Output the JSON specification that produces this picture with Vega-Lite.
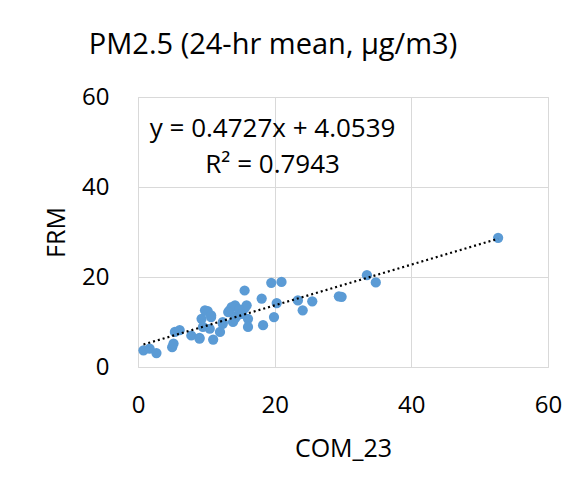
{
  "$schema": "https://vega.github.io/schema/vega-lite/v6.json",
  "width": 410,
  "height": 270,
  "autosize": "none",
  "padding": {"left": 138, "top": 97, "right": 24, "bottom": 118},
  "background": "white",
  "config": {
    "font": "Open Sans",
    "view": {"stroke": "#d9d9d9", "strokeWidth": 1},
    "axis": {"domain": false, "ticks": false, "labelFlush": false, "gridColor": "#d9d9d9", "labelColor": "#000000", "titleColor": "#000000", "labelFontSize": 24, "titleFontSize": 25, "titleFontWeight": "normal", "labelFont": "Open Sans", "titleFont": "Open Sans"}
  },
  "title": {"text": "PM2.5 (24-hr mean, µg/m3)", "fontSize": 29, "fontWeight": "normal", "color": "#000000", "anchor": "middle", "dx": -70, "offset": 25},
  "data": {"values": [
    {"COM_23": 0.8, "FRM": 3.7}, {"COM_23": 1.7, "FRM": 4.1}, {"COM_23": 2.7, "FRM": 3.1},
    {"COM_23": 5.0, "FRM": 4.4}, {"COM_23": 5.2, "FRM": 5.2}, {"COM_23": 5.4, "FRM": 7.8},
    {"COM_23": 6.1, "FRM": 8.2}, {"COM_23": 7.8, "FRM": 7.0}, {"COM_23": 9.0, "FRM": 6.5},
    {"COM_23": 9.3, "FRM": 10.7}, {"COM_23": 10.2, "FRM": 12.4}, {"COM_23": 10.7, "FRM": 11.1},
    {"COM_23": 9.5, "FRM": 8.9}, {"COM_23": 10.5, "FRM": 8.5}, {"COM_23": 11.0, "FRM": 6.1},
    {"COM_23": 12.0, "FRM": 7.8}, {"COM_23": 12.4, "FRM": 10.0}, {"COM_23": 13.4, "FRM": 12.6},
    {"COM_23": 14.2, "FRM": 13.7}, {"COM_23": 13.9, "FRM": 10.0}, {"COM_23": 14.6, "FRM": 11.5},
    {"COM_23": 15.6, "FRM": 13.0}, {"COM_23": 15.9, "FRM": 13.7}, {"COM_23": 15.6, "FRM": 17.0},
    {"COM_23": 16.1, "FRM": 10.7}, {"COM_23": 16.1, "FRM": 8.9}, {"COM_23": 18.1, "FRM": 15.2},
    {"COM_23": 18.3, "FRM": 9.3}, {"COM_23": 19.5, "FRM": 18.7}, {"COM_23": 21.0, "FRM": 18.9},
    {"COM_23": 20.3, "FRM": 14.2}, {"COM_23": 19.9, "FRM": 11.1}, {"COM_23": 23.4, "FRM": 14.8},
    {"COM_23": 24.1, "FRM": 12.6}, {"COM_23": 25.5, "FRM": 14.6}, {"COM_23": 29.4, "FRM": 15.7},
    {"COM_23": 29.8, "FRM": 15.6}, {"COM_23": 33.5, "FRM": 20.4}, {"COM_23": 34.8, "FRM": 18.8},
    {"COM_23": 52.7, "FRM": 28.7}, {"COM_23": 9.8, "FRM": 12.6}, {"COM_23": 10.7, "FRM": 11.5},
    {"COM_23": 12.4, "FRM": 9.6}, {"COM_23": 13.7, "FRM": 13.3}, {"COM_23": 13.2, "FRM": 12.2},
    {"COM_23": 14.2, "FRM": 10.8}, {"COM_23": 14.8, "FRM": 12.8}, {"COM_23": 15.2, "FRM": 11.8},
    {"COM_23": 9.0, "FRM": 6.3}
  ]},
  "layer": [
    {
      "mark": {"type": "circle", "size": 105, "color": "#5B9BD5", "opacity": 1},
      "encoding": {
        "x": {"field": "COM_23", "type": "quantitative", "scale": {"domain": [0, 60]}, "axis": {"values": [0, 20, 40, 60], "title": "COM_23", "labelPadding": 26, "titlePadding": 19}},
        "y": {"field": "FRM", "type": "quantitative", "scale": {"domain": [0, 60]}, "axis": {"values": [0, 20, 40, 60], "title": "FRM", "labelPadding": 29, "titlePadding": 12}}
      }
    },
    {
      "transform": [{"regression": "FRM", "on": "COM_23"}],
      "mark": {"type": "line", "color": "#000000", "strokeWidth": 2.2, "strokeDash": [2, 3]},
      "encoding": {
        "x": {"field": "COM_23", "type": "quantitative"},
        "y": {"field": "FRM", "type": "quantitative"}
      }
    },
    {
      "data": {"values": [{"label": "y = 0.4727x + 4.0539"}]},
      "mark": {"type": "text", "fontSize": 26, "color": "#000000", "align": "center", "baseline": "middle"},
      "encoding": {
        "x": {"datum": 19.7},
        "y": {"datum": 53.0},
        "text": {"field": "label"}
      }
    },
    {
      "data": {"values": [{"label": "R² = 0.7943"}]},
      "mark": {"type": "text", "fontSize": 26, "color": "#000000", "align": "center", "baseline": "middle"},
      "encoding": {
        "x": {"datum": 19.7},
        "y": {"datum": 44.8},
        "text": {"field": "label"}
      }
    }
  ]
}
